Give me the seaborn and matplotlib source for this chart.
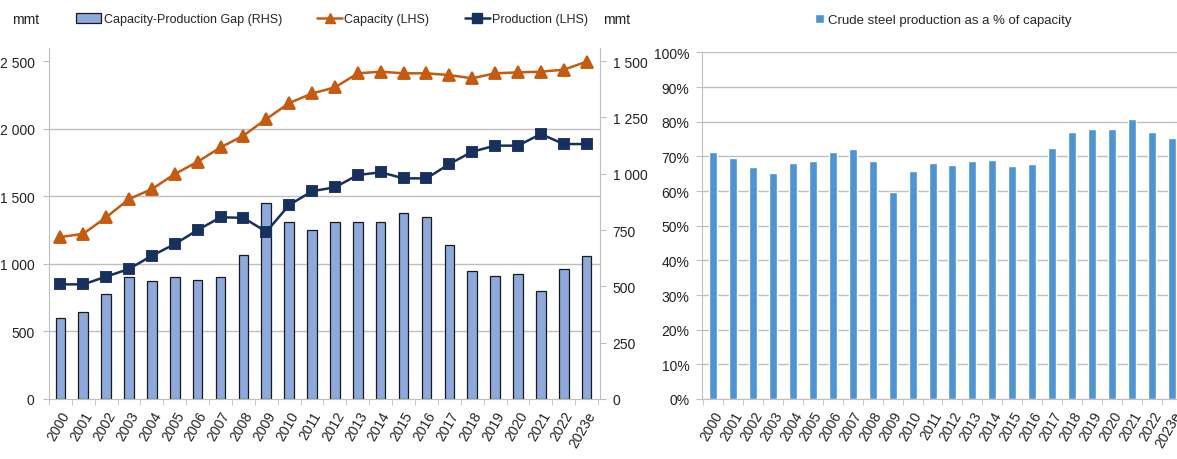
import numpy as np
import pandas as pd
import seaborn as sns
import matplotlib.pyplot as plt
from matplotlib.ticker import FuncFormatter, FixedLocator
from matplotlib.patches import Patch
from matplotlib.lines import Line2D

# %% data
years = ['2000', '2001', '2002', '2003', '2004', '2005', '2006', '2007',
         '2008', '2009', '2010', '2011', '2012', '2013', '2014', '2015',
         '2016', '2017', '2018', '2019', '2020', '2021', '2022', '2023e']
capacity = [1198, 1222, 1344, 1479, 1553, 1664, 1755, 1861, 1948, 2071,
            2189, 2260, 2305, 2409, 2421, 2409, 2409, 2396, 2372, 2409,
            2416, 2421, 2436, 2495]
production = [848, 848, 905, 962, 1060, 1146, 1250, 1344, 1340, 1237,
              1435, 1537, 1566, 1657, 1677, 1632, 1632, 1738, 1829, 1874,
              1874, 1960, 1886, 1886]
gap = [358, 388, 466, 540, 522, 543, 530, 540, 641, 868, 784, 750, 784,
       784, 784, 824, 809, 685, 569, 547, 555, 481, 577, 633]
utilisation = [71.2, 69.4, 66.8, 65.1, 68.1, 68.8, 71.2, 72.1, 68.6, 59.7,
               65.7, 68.1, 67.5, 68.8, 68.9, 67.3, 67.8, 72.4, 76.9, 77.8,
               77.8, 80.8, 77.0, 75.4]

df = pd.DataFrame({'year': years, 'capacity': capacity,
                   'production': production, 'gap': gap,
                   'util': utilisation})

# %% style
sns.set_style('white')
plt.rcParams['font.family'] = ['Liberation Sans', 'DejaVu Sans']
plt.rcParams['font.size'] = 10

GRID = '#BFBFBF'
CAP = '#C55A11'
PROD = '#17305E'
GAPC = '#8EA9DB'
UTIL = '#4E94D0'
TXT = '#222222'
W, H = 1177, 460

fig = plt.figure(figsize=(W / 100, H / 100), dpi=100)

# %% left chart: gap bars (RHS) + capacity / production lines (LHS)
ax_bar = fig.add_axes([48.5 / W, 60 / H, 551.6 / W, 351.5 / H])
ax_line = ax_bar.twinx()

sns.barplot(data=df, x='year', y='gap', color=GAPC, width=0.42,
            edgecolor='#1a1a1a', linewidth=0.9, saturation=1, ax=ax_bar)
sns.pointplot(data=df, x='year', y='capacity', color=CAP, markers='^',
              markersize=8, linewidth=1.8, errorbar=None, ax=ax_line)
sns.pointplot(data=df, x='year', y='production', color=PROD, markers='s',
              markersize=7.5, linewidth=1.8, errorbar=None, ax=ax_line)

ax_bar.set_ylim(0, 1560)
ax_line.set_ylim(0, 2600)
ax_bar.set_xlim(-0.52, 23.59)

ax_bar.yaxis.tick_right()
ax_line.yaxis.tick_left()
ax_bar.set_yticks(np.arange(0, 1501, 250))
ax_line.set_yticks(np.arange(0, 2501, 500))
fmt = FuncFormatter(lambda v, p: f"{v:,.0f}".replace(',', ' '))
ax_bar.yaxis.set_major_formatter(fmt)
ax_line.yaxis.set_major_formatter(fmt)

# gridlines follow the LHS scale, drawn behind the bars
ax_bar.yaxis.set_minor_locator(FixedLocator(np.arange(0, 1501, 300)))
ax_bar.grid(which='minor', axis='y', color=GRID, linewidth=1)
ax_bar.set_axisbelow(True)
ax_bar.tick_params(axis='y', which='minor', length=0)

for a in (ax_bar, ax_line):
    a.set_xlabel('')
    a.set_ylabel('')
    for s in a.spines.values():
        s.set_visible(False)
for s in ('left', 'right', 'bottom'):
    ax_bar.spines[s].set_visible(True)
    ax_bar.spines[s].set_color(GRID)

ax_bar.tick_params(axis='y', which='major', right=True, length=4,
                   color=GRID, pad=5, labelcolor=TXT)
ax_line.tick_params(axis='y', left=True, length=4, color=GRID, pad=6,
                    labelcolor=TXT)
ax_bar.set_xticks(range(len(years)))
ax_bar.set_xticklabels(years, rotation=60, ha='right', rotation_mode='anchor')
ax_bar.xaxis.set_minor_locator(FixedLocator(np.arange(-0.5, 24, 1)))
ax_bar.tick_params(axis='x', which='major', length=0, pad=7, labelcolor=TXT)
ax_bar.tick_params(axis='x', which='minor', bottom=True, length=4,
                   color=GRID)

fig.text(12 / W, 1 - 20 / H, 'mmt', va='center', ha='left', color=TXT)
fig.text(603 / W, 1 - 20 / H, 'mmt', va='center', ha='left', color=TXT)

handles = [Patch(facecolor=GAPC, edgecolor='#1a1a1a', linewidth=0.9),
           Line2D([], [], color=CAP, marker='^', markersize=7, linewidth=1.8),
           Line2D([], [], color=PROD, marker='s', markersize=6.5, linewidth=1.8)]
fig.legend(handles, ['Capacity-Production Gap (RHS)', 'Capacity (LHS)',
                     'Production (LHS)'],
           loc='center left', bbox_to_anchor=(70 / W, 1 - 20 / H), ncol=3,
           frameon=False, borderpad=0, handlelength=2.0, handleheight=0.8,
           handletextpad=0.2, columnspacing=2.8, fontsize=9)

# %% right chart: utilisation rate
ax2 = fig.add_axes([702 / W, 60 / H, 480 / W, 346.6 / H])
sns.barplot(data=df, x='year', y='util', color=UTIL, width=0.4,
            saturation=1, ax=ax2)
ax2.set_ylim(0, 100)
ax2.set_xlim(-0.55, 23.5)
ax2.set_yticks(np.arange(0, 101, 10))
ax2.yaxis.set_major_formatter(FuncFormatter(lambda v, p: f"{v:.0f}%"))
ax2.grid(axis='y', color=GRID, linewidth=1)
ax2.set_axisbelow(True)
ax2.set_xlabel('')
ax2.set_ylabel('')
for s in ax2.spines.values():
    s.set_visible(False)
for s in ('left', 'bottom'):
    ax2.spines[s].set_visible(True)
    ax2.spines[s].set_color(GRID)
ax2.tick_params(axis='y', left=True, length=4, color=GRID, pad=5,
                labelcolor=TXT)
ax2.set_xticks(range(len(years)))
ax2.set_xticklabels(years, rotation=60, ha='right', rotation_mode='anchor')
ax2.xaxis.set_minor_locator(FixedLocator(np.arange(-0.5, 24, 1)))
ax2.tick_params(axis='x', which='major', length=0, pad=7, labelcolor=TXT)
ax2.tick_params(axis='x', which='minor', bottom=True, length=4, color=GRID)

fig.legend([Patch(facecolor=UTIL)], ['Crude steel production as a % of capacity'],
           loc='center left', bbox_to_anchor=(808 / W, 1 - 21 / H),
           frameon=False, borderpad=0, handlelength=0.7, handleheight=0.7,
           handletextpad=0.3, fontsize=9.5)

fig.savefig('out.png', dpi=100)
